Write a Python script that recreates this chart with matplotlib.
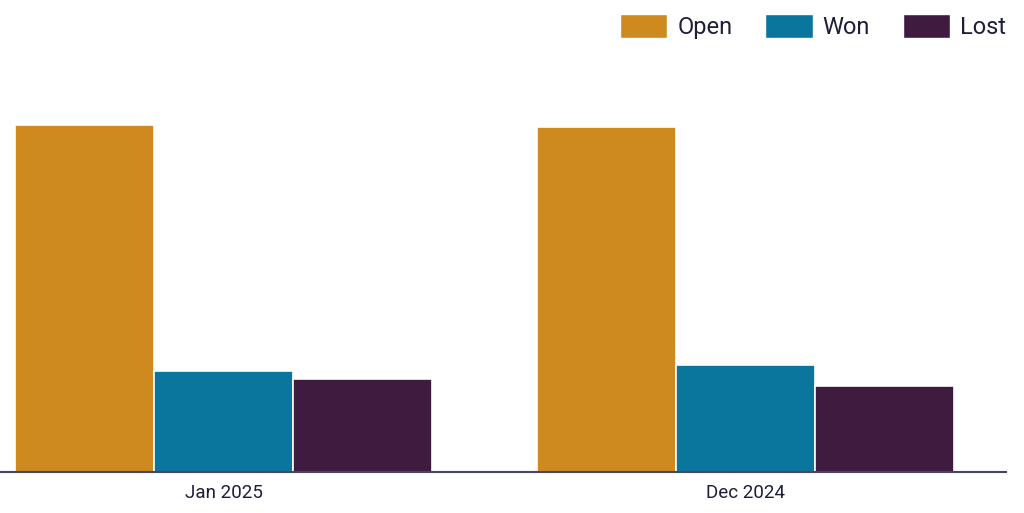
import numpy as np
import matplotlib.pyplot as plt
from matplotlib.patches import Patch

plt.rcParams['font.family'] = ['Roboto', 'DejaVu Sans']

# data (no y axis shown, so units are relative)
categories = ["Jan 2025", "Dec 2024"]
series_names = ["Open", "Won", "Lost"]
open_vals = [52.0, 51.7]
won_vals = [15.1, 16.0]
lost_vals = [13.9, 12.9]
colors = ["#CE8A1E", "#0A769E", "#3F1B3F"]

text_color = "#1E1E3A"

fig = plt.figure(figsize=(10.24, 5.13), dpi=100)
ax = fig.add_axes([0.0, 1 - 472 / 513, 1006 / 1024, (472 - 60) / 513])

x = np.arange(len(categories))
width = 0.8 / 3
for i, (name, vals) in enumerate(zip(series_names, [open_vals, won_vals, lost_vals])):
    ax.bar(x + (i - 1) * width, vals, width, color=colors[i],
           edgecolor='white', linewidth=1.2, label=name)

ax.set_xlim(-0.4286, 1.5)
ax.set_ylim(0, 412 / 6.67)

for side in ['top', 'right', 'left']:
    ax.spines[side].set_visible(False)
ax.spines['bottom'].set_color('#45455F')
ax.spines['bottom'].set_linewidth(1.5)
ax.set_yticks([])
ax.set_xticks(x)
ax.set_xticklabels(categories, fontsize=13.5, color=text_color)
ax.tick_params(axis='x', length=0, pad=9)

handles = [Patch(facecolor=c, edgecolor='white', linewidth=1) for c in colors]
fig.legend(handles, series_names, loc='upper right', ncol=3, frameon=False,
           bbox_to_anchor=(1018 / 1024, 1 - 2 / 513), fontsize=17,
           handlelength=2.0, handleheight=1.2, handletextpad=0.42,
           columnspacing=1.4, borderpad=0, labelcolor=text_color)

fig.savefig('out.png', dpi=100)
